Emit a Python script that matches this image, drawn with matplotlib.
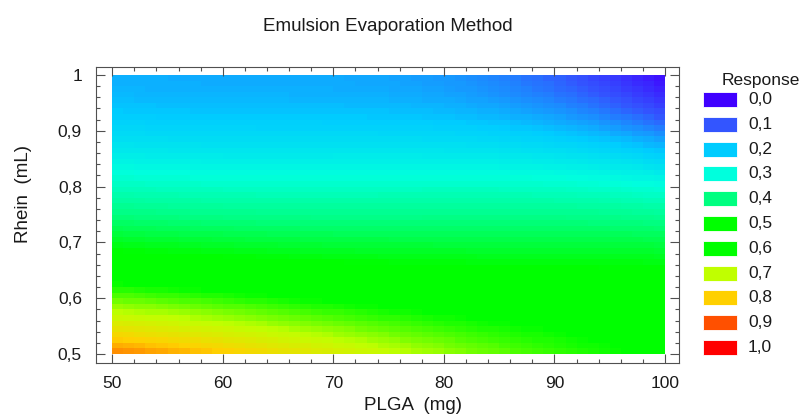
import numpy as np
import matplotlib.pyplot as plt
from matplotlib.colors import LinearSegmentedColormap
from matplotlib.patches import Rectangle

plt.rcParams['font.family'] = ['Liberation Sans', 'DejaVu Sans']

# fitted response surface in coded units u=(PLGA-75)/25, v=(Rhein-0.75)/0.25
# term exponents (u power, v power) and their coefficients
term_pu = [0, 0, 1, 0, 1, 2, 0, 1, 2, 3, 0, 1, 2, 3, 4]
term_pv = [0, 1, 0, 2, 1, 0, 3, 2, 1, 0, 4, 3, 2, 1, 0]
coef = [0.3878, -0.3174, 0.0028, 0.0179, 0.0292, 0.0084, 0.0467, -0.0984,
        -0.0463, -0.0153, 0.0323, 0.0309, -0.0284, -0.0333, -0.0066]

plga_range = [50, 100]
rhein_range = [0.5, 1.0]
n_cells = 50

levels = [0.0, 0.1, 0.2, 0.3, 0.4, 0.5, 0.6, 0.7, 0.8, 0.9, 1.0]
level_labels = ['0,0', '0,1', '0,2', '0,3', '0,4', '0,5', '0,6', '0,7', '0,8', '0,9', '1,0']
level_colors = ['#4000FF', '#3355FF', '#00CCFF', '#00FFDD', '#00FF80', '#00FF00',
                '#00FF00', '#C0FF00', '#FFD000', '#FF5000', '#FF0000']

xticks = [50, 60, 70, 80, 90, 100]
xtick_labels = ['50', '60', '70', '80', '90', '100']
yticks = [0.5, 0.6, 0.7, 0.8, 0.9, 1.0]
ytick_labels = ['0,5', '0,6', '0,7', '0,8', '0,9', '1']

xe = np.linspace(plga_range[0], plga_range[1], n_cells + 1)
ye = np.linspace(rhein_range[0], rhein_range[1], n_cells + 1)
xc = (xe[:-1] + xe[1:]) / 2
yc = (ye[:-1] + ye[1:]) / 2
U, V = np.meshgrid((xc - 75) / 25, (yc - 0.75) / 0.25)
Z = sum(c * U ** a * V ** b for c, a, b in zip(coef, term_pu, term_pv))

cmap = LinearSegmentedColormap.from_list('resp', list(zip(levels, level_colors)))

fig = plt.figure(figsize=(8.06, 4.18), dpi=100)
ax = fig.add_axes([95.8 / 806, 1 - 363 / 418, (678.5 - 95.8) / 806, (363 - 66.7) / 418])
ax.pcolormesh(xe, ye, Z, cmap=cmap, vmin=0, vmax=1, shading='flat')
ax.set_xlim(48.51, 101.22)
ax.set_ylim(0.4839, 1.0149)

ax.set_xticks(xticks, labels=xtick_labels)
ax.set_yticks(yticks, labels=ytick_labels)
ax.set_xticks(np.arange(50, 101, 2), minor=True)
ax.set_yticks(np.arange(0.5, 1.001, 0.02), minor=True)
ax.tick_params(which='both', direction='in', top=True, right=True, color='#505050',
               width=0.8, labelsize=12.5, labelcolor='#1a1a1a')
ax.tick_params(which='major', length=6.5)
ax.tick_params(which='minor', length=3.2)
ax.tick_params(axis='y', pad=10)
ax.tick_params(axis='x', pad=9)
for s in ax.spines.values():
    s.set_color('#505050')
    s.set_linewidth(0.8)

fig.text(388 / 806, 1 - 26.5 / 418, 'Emulsion Evaporation Method', ha='center', va='center',
         fontsize=13.5, color='#1a1a1a')
fig.text(413 / 806, 1 - 406 / 418, 'PLGA  (mg)', ha='center', va='center', fontsize=13.5,
         color='#1a1a1a')
fig.text(23.5 / 806, 1 - 193.5 / 418, 'Rhein  (mL)', ha='center', va='center', rotation=90,
         fontsize=13.5, color='#1a1a1a')

# legend drawn in pixel coordinates
lax = fig.add_axes([0, 0, 1, 1])
lax.set_xlim(0, 806)
lax.set_ylim(418, 0)
lax.axis('off')
lax.text(722, 81, 'Response', ha='left', va='center', fontsize=12.5, color='#1a1a1a')
for i, (lab, col) in enumerate(zip(level_labels, level_colors)):
    yc_ = 99.5 + i * 24.8
    lax.add_patch(Rectangle((703, yc_ - 7.5), 34, 15, facecolor=col, edgecolor='#ffffff',
                            linewidth=0.6))
    lax.text(748, yc_, lab, ha='left', va='center', fontsize=12.5, color='#1a1a1a')

fig.savefig('out.png', dpi=100)
